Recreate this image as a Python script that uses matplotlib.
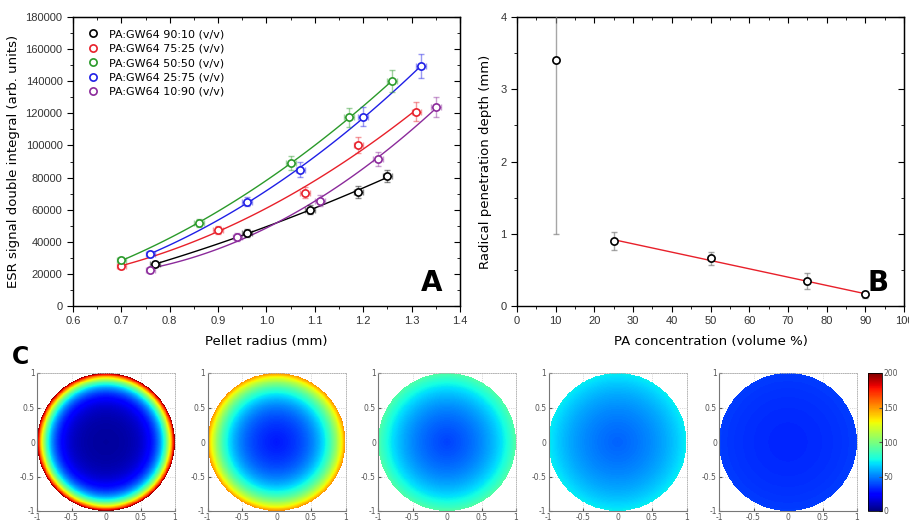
import numpy as np
import matplotlib
matplotlib.use('Agg')
from matplotlib import pyplot as plt
from matplotlib.ticker import MultipleLocator

# ---- panel A: ESR double integral vs pellet radius
labels_a = ['PA:GW64 90:10 (v/v)', 'PA:GW64 75:25 (v/v)', 'PA:GW64 50:50 (v/v)',
            'PA:GW64 25:75 (v/v)', 'PA:GW64 10:90 (v/v)']
colors_a = ['black', '#e8202a', '#2a9a2a', '#1f1fe6', '#8b2a9b']

x_9010 = [0.77, 0.96, 1.09, 1.19, 1.25]
y_9010 = [26000, 45500, 60000, 71000, 81000]
e_9010 = [2000, 2500, 3000, 3500, 4000]

x_7525 = [0.70, 0.90, 1.08, 1.19, 1.31]
y_7525 = [25000, 47500, 70500, 100000, 121000]
e_7525 = [2000, 2500, 3500, 5000, 6000]

x_5050 = [0.70, 0.86, 1.05, 1.17, 1.26]
y_5050 = [28500, 51500, 89000, 117500, 140000]
e_5050 = [2000, 2500, 4500, 6000, 7000]

x_2575 = [0.76, 0.96, 1.07, 1.20, 1.32]
y_2575 = [32500, 65000, 85000, 118000, 149500]
e_2575 = [2000, 3000, 4500, 6000, 7500]

x_1090 = [0.76, 0.94, 1.11, 1.23, 1.35]
y_1090 = [22500, 43000, 65500, 91500, 124000]
e_1090 = [2000, 2500, 3500, 4500, 6000]

xerr_a = 0.01

series_a = [(x_9010, y_9010, e_9010), (x_7525, y_7525, e_7525), (x_5050, y_5050, e_5050),
            (x_2575, y_2575, e_2575), (x_1090, y_1090, e_1090)]

# ---- panel B: penetration depth vs PA concentration
pa_conc = [10, 25, 50, 75, 90]
depth = [3.4, 0.9, 0.66, 0.34, 0.16]
depth_err_low = [2.4, 0.12, 0.09, 0.11, 0.05]
depth_err_high = [0.7, 0.12, 0.09, 0.11, 0.05]

# ---- panel C: radial concentration profiles (edge value, centre value, decay depth)
edge_val = [200, 152, 90, 72, 37]
centre_val = [5, 25, 30, 38, 31]
decay = [0.16, 0.3, 0.5, 0.6, 0.6]

plt.rcParams['font.family'] = ['DejaVu Sans']
W, H = 909, 521
fig = plt.figure(figsize=(W / 100, H / 100), dpi=100)


def px_axes(l, t, r, b):
    return fig.add_axes([l / W, 1 - b / H, (r - l) / W, (b - t) / H])


def origin_style(ax):
    ax.tick_params(which='both', direction='out', top=False, right=False, labelsize=8,
                   labelcolor='#333333')
    ax.tick_params(which='major', length=4)
    ax.tick_params(which='minor', length=2.5)
    for s in ax.spines.values():
        s.set_linewidth(1.0)
    for lab in ax.get_xticklabels() + ax.get_yticklabels():
        lab.set_family('Liberation Sans')
    top = ax.secondary_xaxis('top')
    top.tick_params(which='both', direction='in', labeltop=False)
    top.tick_params(which='major', length=4)
    top.tick_params(which='minor', length=2.5)
    top.xaxis.set_major_locator(ax.xaxis.get_major_locator())
    top.xaxis.set_minor_locator(ax.xaxis.get_minor_locator())
    right = ax.secondary_yaxis('right')
    right.tick_params(which='both', direction='in', labelright=False)
    right.tick_params(which='major', length=4)
    right.tick_params(which='minor', length=2.5)
    right.yaxis.set_major_locator(ax.yaxis.get_major_locator())
    right.yaxis.set_minor_locator(ax.yaxis.get_minor_locator())


# Panel A
axa = px_axes(73, 17, 460, 306)
for (xs, ys, es), c, lab in zip(series_a, colors_a, labels_a):
    xs = np.array(xs)
    ys = np.array(ys)
    p = np.polyfit(xs, ys, 2)
    xf = np.linspace(xs.min(), xs.max(), 100)
    axa.plot(xf, np.polyval(p, xf), color=c, lw=1.0, zorder=2)
    axa.errorbar(xs, ys, yerr=es, xerr=xerr_a, fmt='none', ecolor=c, alpha=0.45,
                 elinewidth=1.0, capsize=2.5, zorder=3)
    axa.plot(xs, ys, 'o', mfc='white', mec=c, mew=1.2, ms=5.2, zorder=4, label=lab)
axa.set_xlim(0.6, 1.4)
axa.set_ylim(0, 180000)
axa.xaxis.set_major_locator(MultipleLocator(0.1))
axa.xaxis.set_minor_locator(MultipleLocator(0.05))
axa.yaxis.set_major_locator(MultipleLocator(20000))
axa.yaxis.set_minor_locator(MultipleLocator(10000))
axa.set_xticks(np.arange(0.6, 1.41, 0.1))
axa.set_xticklabels(['0.6', '0.7', '0.8', '0.9', '1.0', '1.1', '1.2', '1.3', '1.4'])
origin_style(axa)
axa.set_xlabel('Pellet radius (mm)', fontsize=9.5, labelpad=6)
axa.set_ylabel('ESR signal double integral (arb. units)', fontsize=9.5, labelpad=4)
leg = axa.legend(loc='upper left', frameon=False, fontsize=8, handletextpad=0.7,
                 borderaxespad=0.7, labelspacing=0.4, handlelength=1.4)
axa.text(0.955, 0.08, 'A', transform=axa.transAxes, fontsize=20, fontweight='bold',
         ha='right', va='center')

# Panel B
axb = px_axes(517, 17, 904, 306)
xb = np.array(pa_conc[1:])
yb = np.array(depth[1:])
pb = np.polyfit(xb, yb, 1)
xbf = np.linspace(xb.min(), xb.max(), 10)
axb.plot(xbf, np.polyval(pb, xbf), color='#e8202a', lw=1.0, zorder=2)
axb.errorbar(pa_conc, depth, yerr=[depth_err_low, depth_err_high], fmt='none',
             ecolor='gray', alpha=0.7, elinewidth=1.0, capsize=2.5, zorder=3)
axb.plot(pa_conc, depth, 'o', mfc='white', mec='black', mew=1.2, ms=5.2, zorder=4)
axb.set_xlim(0, 100)
axb.set_ylim(0, 4)
axb.xaxis.set_major_locator(MultipleLocator(10))
axb.xaxis.set_minor_locator(MultipleLocator(5))
axb.yaxis.set_major_locator(MultipleLocator(1))
axb.yaxis.set_minor_locator(MultipleLocator(0.5))
origin_style(axb)
axb.set_xlabel('PA concentration (volume %)', fontsize=9.5, labelpad=6)
axb.set_ylabel('Radical penetration depth (mm)', fontsize=9.5, labelpad=6)
axb.text(0.96, 0.08, 'B', transform=axb.transAxes, fontsize=20, fontweight='bold',
         ha='right', va='center')

# Panel C
g = np.linspace(-1, 1, 301)
gx, gy = np.meshgrid(g, g)
rr = np.hypot(gx, gy)
cmap = plt.get_cmap('jet')
for i in range(5):
    left = 37 + i * 170.5
    ax = px_axes(left, 373, left + 138, 511)
    field = centre_val[i] + (edge_val[i] - centre_val[i]) * np.exp(-(1 - rr) / decay[i])
    field = np.ma.masked_where(rr > 1, field)
    im = ax.pcolormesh(g, g, field, cmap=cmap, vmin=0, vmax=200, shading='auto',
                       rasterized=True)
    ax.set_xlim(-1, 1)
    ax.set_ylim(-1, 1)
    ax.set_xticks([-1, -0.5, 0, 0.5, 1])
    ax.set_yticks([-1, -0.5, 0, 0.5, 1])
    ax.set_xticklabels(['-1', '-0.5', '0', '0.5', '1'])
    ax.set_yticklabels(['-1', '-0.5', '0', '0.5', '1'])
    ax.tick_params(labelsize=5.5, colors='#555555', length=2, pad=1.5, direction='in')
    ax.grid(True, ls=':', lw=0.5, color='#bbbbbb')
    ax.set_axisbelow(True)
    for s in ['top', 'right']:
        ax.spines[s].set_linestyle(':')
        ax.spines[s].set_color('#aaaaaa')
        ax.spines[s].set_linewidth(0.6)
    for s in ['left', 'bottom']:
        ax.spines[s].set_color('#777777')
        ax.spines[s].set_linewidth(0.8)

cax = px_axes(868, 373, 882, 511)
cb = fig.colorbar(im, cax=cax, ticks=[0, 50, 100, 150, 200])
cb.ax.tick_params(labelsize=5.5, colors='#555555', length=2, pad=1, direction='in')
cb.outline.set_linewidth(0.6)

fig.text(12 / W, 1 - 357 / H, 'C', fontsize=17, fontweight='bold', ha='left', va='center')

fig.savefig('out.png', dpi=100)
